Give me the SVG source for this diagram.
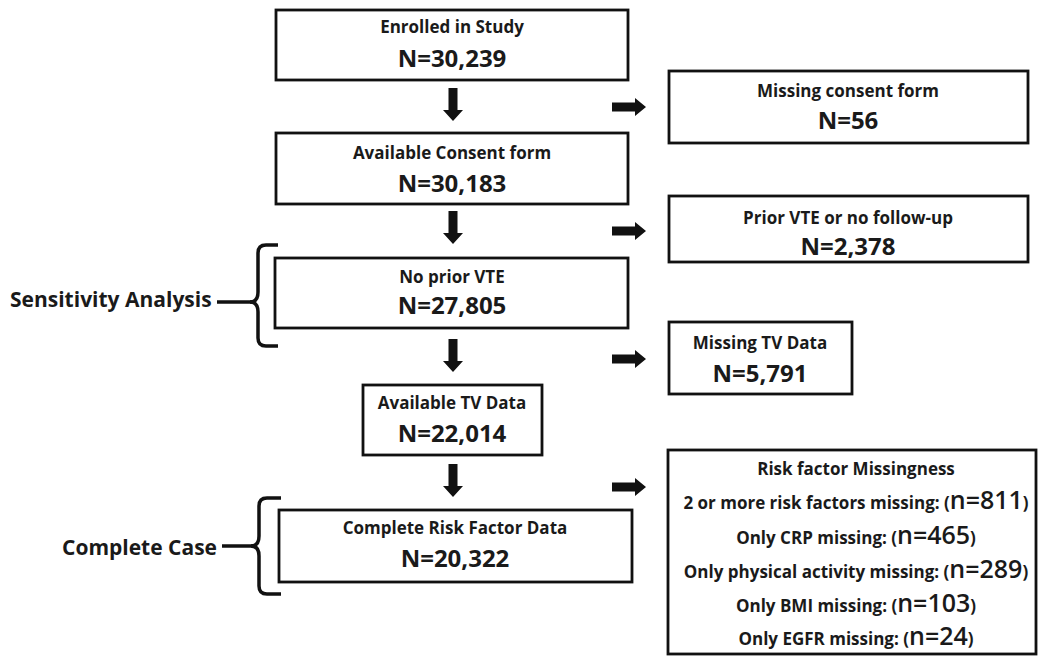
<svg xmlns="http://www.w3.org/2000/svg" xmlns:xlink="http://www.w3.org/1999/xlink" width="1038" height="656" viewBox="0 0 1038 656">
<style>
.box{fill:#fff;stroke:#111;stroke-width:2.8}
.t{font-family:"Open Sans","Liberation Sans",sans-serif;font-weight:bold;fill:#1a1a1a;text-anchor:middle}
.h{font-size:17px}
.n{font-size:24px}
.side{font-family:"Open Sans","Liberation Sans",sans-serif;font-weight:bold;font-size:21px;fill:#1a1a1a}
.big{font-size:25px;font-weight:600}
.br{fill:none;stroke:#111;stroke-width:3.5;stroke-linecap:butt}
.arr{fill:#111}
</style>
<defs>
<path id="dn" d="M-4.5,0 H4.5 V22 H10 L0,33 L-10,22 H-4.5 Z"/>
<path id="rt" d="M0,-4.5 H23 V-9 L34,0 L23,9 V4.5 H0 Z"/>
</defs>
<rect width="1038" height="656" fill="#fff"/>
<g id="connectors" class="arr">
<use xlink:href="#dn" href="#dn" x="453" y="88"/>
<use xlink:href="#dn" href="#dn" x="453" y="211"/>
<use xlink:href="#dn" href="#dn" x="453" y="339"/>
<use xlink:href="#dn" href="#dn" x="453" y="464"/>
<use xlink:href="#rt" href="#rt" x="612" y="107"/>
<use xlink:href="#rt" href="#rt" x="612" y="231"/>
<use xlink:href="#rt" href="#rt" x="612" y="359"/>
<use xlink:href="#rt" href="#rt" x="612" y="487"/>
</g>
<g id="enrolled">
<rect class="box" x="276" y="10" width="352" height="70"/>
<text class="t h" x="452" y="33">Enrolled in Study</text>
<text class="t n" x="452" y="67">N=30,239</text>
</g>
<g id="consent">
<rect class="box" x="276" y="133" width="352" height="71"/>
<text class="t h" x="452" y="159">Available Consent form</text>
<text class="t n" x="452" y="192">N=30,183</text>
</g>
<g id="noprior">
<rect class="box" x="275" y="258" width="353" height="70"/>
<text class="t h" x="452" y="283">No prior VTE</text>
<text class="t n" x="452" y="314">N=27,805</text>
</g>
<g id="tvdata">
<rect class="box" x="363" y="385" width="179" height="70"/>
<text class="t h" x="452" y="409">Available TV Data</text>
<text class="t n" x="452" y="442">N=22,014</text>
</g>
<g id="complete">
<rect class="box" x="279" y="510" width="353" height="72"/>
<text class="t h" x="455" y="534">Complete Risk Factor Data</text>
<text class="t n" x="455" y="567">N=20,322</text>
</g>
<g id="missing-consent">
<rect class="box" x="669" y="71" width="359" height="72"/>
<text class="t h" x="848" y="97">Missing consent form</text>
<text class="t n" x="848" y="129">N=56</text>
</g>
<g id="prior-vte">
<rect class="box" x="669" y="196" width="359" height="66"/>
<text class="t h" x="848" y="224">Prior VTE or no follow-up</text>
<text class="t n" x="848" y="255">N=2,378</text>
</g>
<g id="missing-tv">
<rect class="box" x="669" y="322" width="183" height="72"/>
<text class="t h" x="760" y="349">Missing TV Data</text>
<text class="t n" x="760" y="382">N=5,791</text>
</g>
<g id="risk-missingness">
<rect class="box" x="668" y="450" width="368" height="204"/>
<text class="t h" x="856" y="475">Risk factor Missingness</text>
<text class="t h" x="856" y="509">2 or more risk factors missing: (<tspan class="big">n=811</tspan>)</text>
<text class="t h" x="856" y="544">Only CRP missing: (<tspan class="big">n=465</tspan>)</text>
<text class="t h" x="856" y="578">Only physical activity missing: (<tspan class="big">n=289</tspan>)</text>
<text class="t h" x="856" y="612">Only BMI missing: (<tspan class="big">n=103</tspan>)</text>
<text class="t h" x="856" y="645">Only EGFR missing: (<tspan class="big">n=24</tspan>)</text>
</g>
<g id="sensitivity">
<text class="side" x="10" y="307">Sensitivity Analysis</text>
<path class="br" d="M217,302 H252"/>
<path class="br" d="M278,245 H266 Q258,245 258,253 V292 Q258,302 250,302 Q258,302 258,312 V338 Q258,346 266,346 H278"/>
</g>
<g id="complete-case">
<text class="side" x="62" y="555">Complete Case</text>
<path class="br" d="M222,546 H252"/>
<path class="br" d="M281,498 H267 Q259,498 259,506 V536 Q259,546 251,546 Q259,546 259,556 V586 Q259,594 267,594 H281"/>
</g>
</svg>
